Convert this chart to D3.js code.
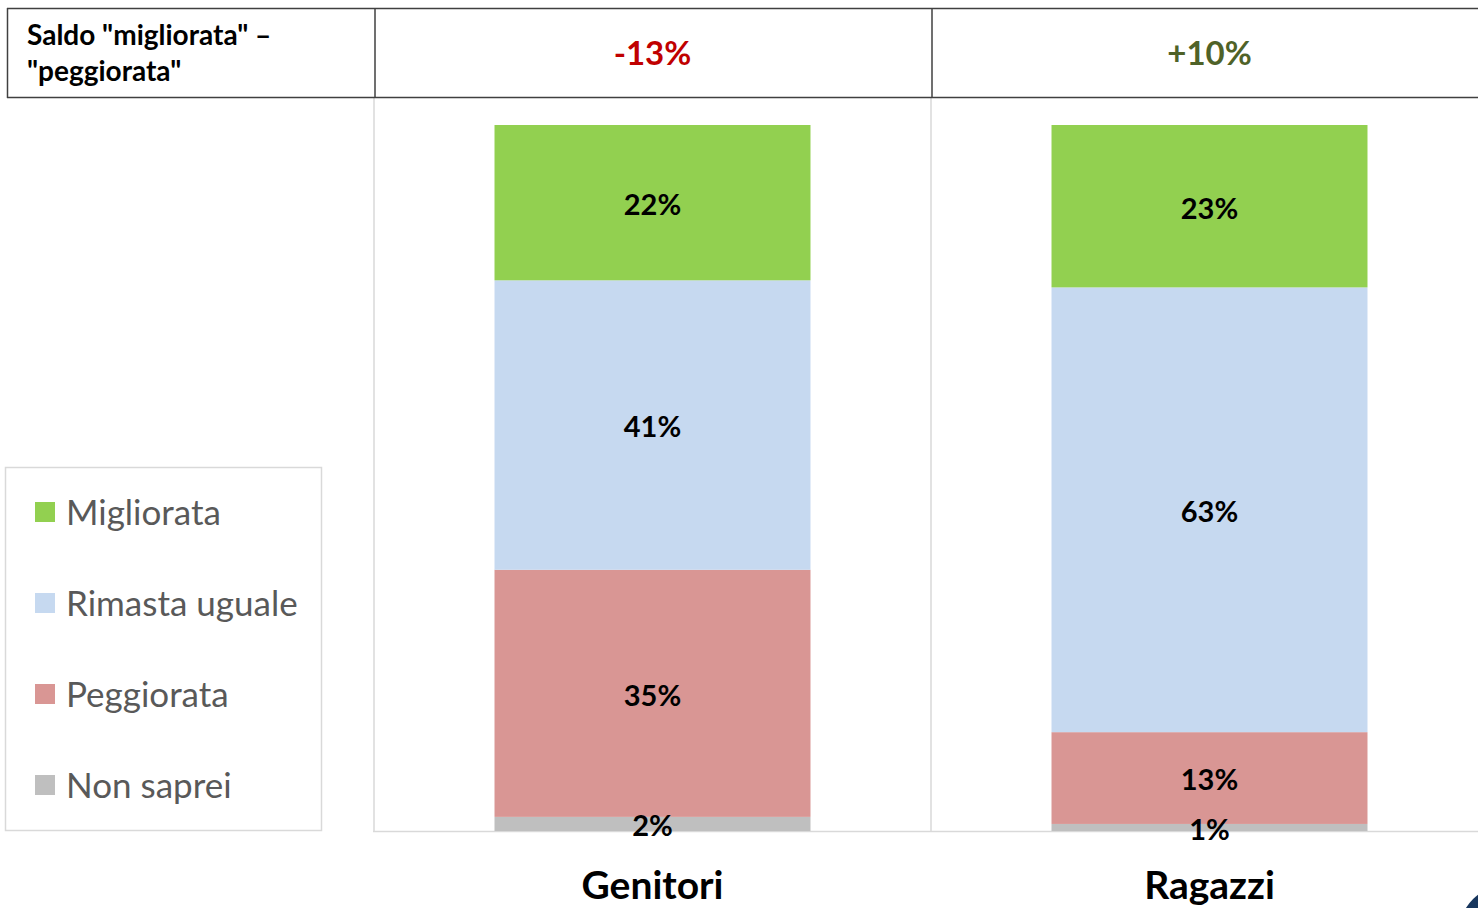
<!DOCTYPE html>
<html>
<head>
<meta charset="utf-8">
<script src="https://cdn.jsdelivr.net/npm/d3@7"></script>
<style>
  html, body { margin: 0; padding: 0; background: #fff; }
  svg { display: block; }
  text { font-family: Lato, "Open Sans", sans-serif; }
</style>
</head>
<body>
<svg id="chart" width="1478" height="908"></svg>
<script>
// Groups and response categories
const groups = ["Genitori", "Ragazzi"];
const answers = ["Migliorata", "Rimasta uguale", "Peggiorata", "Non saprei"];

// Percent shares per group (same order as answers)
const genitori = [22, 41, 35, 2];
const ragazzi = [23, 63, 13, 1];

// Net balance "migliorata" minus "peggiorata" shown in the header row
const saldo = [-13, 10];
const headerTitle = ["Saldo \"migliorata\" \u2013", "\"peggiorata\""];

const colors = ["#92d050", "#c6d9f0", "#d99694", "#bfbfbf"];

const svg = d3.select("#chart");
const W = 1478, H = 908;

// Stacked layout: first answer on top, last at the bottom
const rows = groups.map((g, i) => {
  const vals = [genitori, ragazzi][i];
  const r = { group: g };
  answers.forEach((a, j) => r[a] = vals[j]);
  return r;
});
const stackOrder = answers.slice().reverse();
const series = d3.stack().keys(stackOrder)(rows);

const pad = 0.4327;
const x = d3.scaleBand().domain(groups).range([374, 1488])
  .paddingInner(pad).paddingOuter(pad / 2);
const y = d3.scaleLinear().domain([0, 100]).range([831, 125]);
const color = d3.scaleOrdinal().domain(answers).range(colors);

// Panel separators and baseline
const grid = svg.append("g").attr("stroke", "#d9d9d9").attr("stroke-width", 1.5);
groups.forEach(g => {
  const x0 = x(g) - x.step() * x.paddingOuter();
  grid.append("line").attr("x1", x0).attr("x2", x0).attr("y1", 97).attr("y2", y(0));
});
grid.append("line").attr("x1", 373).attr("x2", W).attr("y1", y(0) + 0.5).attr("y2", y(0) + 0.5);

// Bars
const layers = svg.append("g").selectAll("g").data(series).join("g")
  .attr("fill", d => color(d.key));
layers.selectAll("rect").data(d => d).join("rect")
  .attr("x", d => x(d.data.group))
  .attr("width", x.bandwidth())
  .attr("y", d => y(d[1]))
  .attr("height", d => y(d[0]) - y(d[1]));

// Value labels in the middle of each segment
const labels = svg.append("g")
  .attr("font-weight", 700).attr("font-size", 29).attr("fill", "#000")
  .attr("text-anchor", "middle");
series.forEach(s => {
  s.forEach(d => {
    const v = d[1] - d[0];
    const small = v < 3;
    labels.append("text")
      .attr("x", x(d.data.group) + x.bandwidth() / 2)
      .attr("y", (y(d[0]) + y(d[1])) / 2 + (small ? 2 : 2))
      .attr("dy", "0.36em")
      .text(v + "%");
  });
});

// Group labels under the bars
svg.append("g").selectAll("text").data(groups).join("text")
  .attr("x", d => x(d) + x.bandwidth() / 2)
  .attr("y", 899)
  .attr("text-anchor", "middle")
  .attr("font-weight", 700).attr("font-size", 39).attr("fill", "#000")
  .text(d => d);

// Header row with the net balance
const head = svg.append("g");
const hs = head.append("g").attr("stroke", "#404040").attr("stroke-width", 1.5).attr("fill", "none");
hs.append("line").attr("x1", 7).attr("x2", W).attr("y1", 8.5).attr("y2", 8.5);
hs.append("line").attr("x1", 7).attr("x2", W).attr("y1", 97.5).attr("y2", 97.5);
hs.append("line").attr("x1", 7.5).attr("x2", 7.5).attr("y1", 8).attr("y2", 98);
groups.forEach(g => {
  const x0 = x(g) - x.step() * x.paddingOuter() + 1;
  hs.append("line").attr("x1", x0).attr("x2", x0).attr("y1", 8).attr("y2", 98);
});
head.append("g").selectAll("text").data(headerTitle).join("text")
  .attr("x", 27).attr("y", (d, i) => 45 + i * 36)
  .attr("font-weight", 700).attr("font-size", 28).attr("fill", "#000")
  .text(d => d);
head.append("g").selectAll("text").data(groups).join("text")
  .attr("x", d => x(d) + x.bandwidth() / 2)
  .attr("y", 65)
  .attr("text-anchor", "middle")
  .attr("font-weight", 700).attr("font-size", 33)
  .attr("fill", (d, i) => saldo[i] < 0 ? "#c00000" : "#4f6228")
  .text((d, i) => (saldo[i] > 0 ? "+" : "") + saldo[i] + "%");

// Legend
const legend = svg.append("g");
legend.append("rect").attr("x", 5.5).attr("y", 467.5).attr("width", 316).attr("height", 363)
  .attr("fill", "#fff").attr("stroke", "#d9d9d9").attr("stroke-width", 1.5);
const li = legend.selectAll("g.item").data(answers).join("g").attr("class", "item")
  .attr("transform", (d, i) => `translate(35, ${512 + i * 91})`);
li.append("rect").attr("x", 0).attr("y", -10).attr("width", 20).attr("height", 20)
  .attr("fill", d => color(d));
li.append("text").attr("x", 31).attr("y", 0).attr("dy", "0.36em")
  .attr("font-size", 35).attr("fill", "#595959")
  .text(d => d);

// Corner logo fragment
svg.append("circle").attr("cx", 1512).attr("cy", 938).attr("r", 55).attr("fill", "#17365d");
</script>
</body>
</html>
